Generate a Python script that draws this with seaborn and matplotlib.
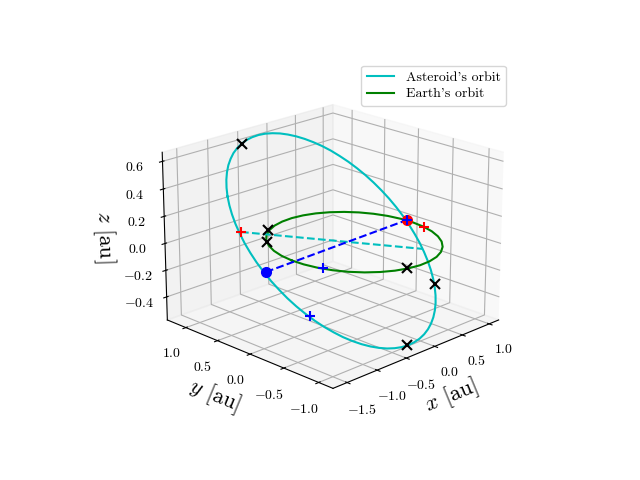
# Asteroid and Earth orbits in 3D
import matplotlib
matplotlib.use("Agg")
import matplotlib.pyplot as plt
import seaborn as sns

asteroid_x = [-1.333,-1.27,-1.2,-1.123,-1.04,-0.95,-0.856,-0.757,-0.654,-0.549,-0.441,-0.332,-0.223,-0.114,-0.006,0.099,0.202,0.301,0.396,0.486,0.57,0.647,0.718,0.781,0.836,0.882,0.92,0.948,0.968,0.977,0.978,0.968,0.95,0.922,0.885,0.839,0.784,0.722,0.652,0.575,0.491,0.402,0.307,0.208,0.106,0.0,-0.107,-0.216,-0.326,-0.435,-0.542,-0.648,-0.751,-0.85,-0.945,-1.034,-1.118,-1.196,-1.266,-1.329,-1.384,-1.431,-1.468,-1.497,-1.516,-1.526,-1.526,-1.517,-1.498,-1.47,-1.433,-1.387,-1.333]
asteroid_y = [0.682,0.755,0.823,0.885,0.941,0.99,1.033,1.067,1.094,1.114,1.125,1.128,1.123,1.11,1.089,1.06,1.024,0.98,0.93,0.873,0.809,0.74,0.666,0.587,0.504,0.418,0.329,0.238,0.146,0.053,-0.039,-0.131,-0.222,-0.31,-0.396,-0.478,-0.556,-0.629,-0.697,-0.759,-0.815,-0.864,-0.906,-0.941,-0.968,-0.987,-0.998,-1.002,-0.997,-0.984,-0.963,-0.934,-0.898,-0.854,-0.803,-0.746,-0.683,-0.614,-0.539,-0.461,-0.378,-0.292,-0.203,-0.112,-0.02,0.073,0.166,0.258,0.348,0.437,0.522,0.604,0.682]
asteroid_z = [0.39,0.432,0.47,0.505,0.537,0.564,0.588,0.607,0.622,0.633,0.639,0.641,0.638,0.63,0.618,0.601,0.58,0.555,0.526,0.494,0.458,0.418,0.376,0.331,0.284,0.235,0.184,0.133,0.08,0.028,-0.025,-0.077,-0.128,-0.178,-0.227,-0.273,-0.317,-0.359,-0.397,-0.432,-0.463,-0.491,-0.515,-0.534,-0.549,-0.56,-0.566,-0.568,-0.565,-0.557,-0.545,-0.528,-0.507,-0.482,-0.453,-0.421,-0.384,-0.345,-0.303,-0.258,-0.211,-0.162,-0.111,-0.06,-0.007,0.045,0.098,0.15,0.202,0.252,0.3,0.346,0.39]

earth_x = [-1.04,-1.017,-0.964,-0.882,-0.775,-0.645,-0.496,-0.333,-0.161,0.016,0.19,0.359,0.515,0.655,0.775,0.869,0.937,0.975,0.983,0.96,0.907,0.825,0.718,0.588,0.439,0.276,0.104,-0.073,-0.248,-0.416,-0.572,-0.712,-0.832,-0.927,-0.994,-1.032,-1.04]
earth_y = [-0.005,0.166,0.329,0.482,0.618,0.733,0.825,0.891,0.927,0.935,0.912,0.86,0.78,0.675,0.548,0.403,0.244,0.076,-0.095,-0.266,-0.429,-0.582,-0.718,-0.833,-0.925,-0.991,-1.027,-1.035,-1.012,-0.96,-0.88,-0.775,-0.648,-0.503,-0.344,-0.176,-0.005]
earth_z = [0.0] * len(earth_x)

# black crosses
cross_x = [-0.652, 0.758, -0.235, -0.504, -0.81, -0.251]
cross_y = [1.09, -0.605, -0.997, 0.839, 0.574, -0.995]
cross_z = [0.62, -0.345, -0.565, 0.0, 0.0, 0.0]

# red and blue plus markers
red_plus_x = [-1.467, 0.955]
red_plus_y = [0.357, -0.279]
red_plus_z = [0.206, 0.0]
blue_plus_x = [0.996, -0.955, -1.287]
blue_plus_y = [0.005, -0.39, -0.491]
blue_plus_z = [0.0, 0.0, -0.275]

# node line (blue dot to red dot) and the cyan dashed line
node_x = [-1.523, 0.996]
node_y = [-0.062, 0.005]
node_z = [0.0, 0.0]
apsis_x = [-1.467, 0.937]
apsis_y = [0.357, -0.284]
apsis_z = [0.206, -0.163]

x_ticks = [-1.5, -1.0, -0.5, 0.0, 0.5, 1.0]
y_ticks = [-1.0, -0.5, 0.0, 0.5, 1.0]
z_ticks = [-0.4, -0.2, 0.0, 0.2, 0.4, 0.6]

sns.reset_orig()
plt.rcParams['font.family'] = ['cmr10']
plt.rcParams['mathtext.fontset'] = 'cm'
plt.rcParams['axes.formatter.use_mathtext'] = True

cyan, green, blue, red, black = sns.color_palette(['c', 'g', 'b', 'r', 'k'])

fig = plt.figure(figsize=(6.4, 4.8), dpi=100)
ax = fig.add_subplot(projection='3d')
ax.computed_zorder = False
ax.view_init(elev=20, azim=-135)

ax.plot(asteroid_x, asteroid_y, asteroid_z, color=cyan, label="Asteroid's orbit")
ax.plot(earth_x, earth_y, earth_z, color=green, label="Earth's orbit")
ax.plot(apsis_x, apsis_y, apsis_z, color=cyan, ls='--')
ax.plot(node_x, node_y, node_z, color=blue, ls='--')

ax.plot(node_x[:1], node_y[:1], node_z[:1], 'o', color=blue, ms=7)
ax.plot(node_x[1:], node_y[1:], node_z[1:], 'o', color=red, ms=7)
ax.plot(red_plus_x, red_plus_y, red_plus_z, '+', color=red, ms=7.5, mew=1.5)
ax.plot(blue_plus_x, blue_plus_y, blue_plus_z, '+', color=blue, ms=7.5, mew=1.5)
ax.plot(cross_x, cross_y, cross_z, 'x', color=black, ms=7, mew=1.5)

ax.set_xlim(-1.73, 1.18)
ax.set_ylim(-1.2, 1.3)
ax.set_zlim(-0.575, 0.665)
ax.set_xticks(x_ticks)
ax.set_yticks(y_ticks)
ax.set_zticks(z_ticks)
ax.set_xlabel(r'$x$ [au]', fontsize=16)
ax.set_ylabel(r'$y$ [au]', fontsize=16)
ax.set_zlabel(r'$z$ [au]', fontsize=16)

ax.legend(loc='upper right', bbox_to_anchor=(506 / 640, 1 - 65.5 / 480),
          bbox_transform=fig.transFigure, borderaxespad=0, labelspacing=0.28)

fig.savefig('out.png', dpi=100)
